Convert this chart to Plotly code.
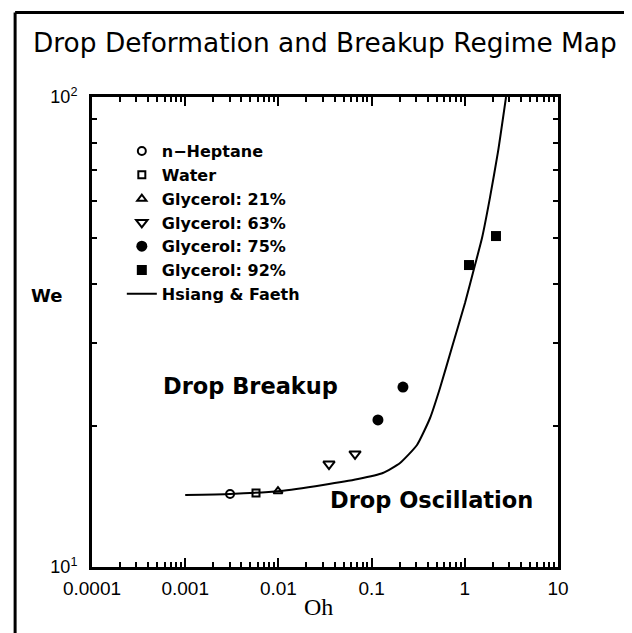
import plotly.graph_objects as go

# ---- data ----
heptane_oh = [0.00303]
heptane_we = [14.3]
water_oh = [0.00575]
water_we = [14.37]
gly21_oh = [0.0099]
gly21_we = [14.5]
gly63_oh = [0.0349, 0.0664]
gly63_we = [16.56, 17.4]
gly75_oh = [0.117, 0.217]
gly75_we = [20.55, 24.15]
gly92_oh = [1.11, 2.16]
gly92_we = [43.9, 50.6]

hf_oh = [0.001, 0.00303, 0.0104, 0.0301, 0.0715, 0.132, 0.202, 0.307, 0.424,
         0.542, 0.730, 1.005, 1.286, 1.53, 1.86, 2.27, 2.77]
hf_we = [14.23, 14.30, 14.51, 14.95, 15.39, 15.85, 16.65, 18.18, 20.75,
         24.04, 29.38, 36.45, 43.9, 50.1, 61.0, 76.4, 100.0]

x_tick_vals = [1e-4, 1e-3, 1e-2, 1e-1, 1, 10]
x_tick_text = ["0.0001", "0.001", "0.01", "0.1", "1", "10"]
y_tick_vals = [10, 100]
y_tick_text = ["10<sup>1</sup>", "10<sup>2</sup>"]

BLACK = "#000000"
LEG_FONT = dict(family="DejaVu Sans", size=16, color=BLACK, weight="bold")

fig = go.Figure()
fig.add_trace(go.Scatter(x=heptane_oh, y=heptane_we, mode="markers", name="n\u2212Heptane",
                         marker=dict(symbol="circle-open", size=8, color=BLACK, line=dict(width=2))))
fig.add_trace(go.Scatter(x=water_oh, y=water_we, mode="markers", name="Water",
                         marker=dict(symbol="square-open", size=7, color=BLACK, line=dict(width=2))))
fig.add_trace(go.Scatter(x=gly21_oh, y=gly21_we, mode="markers", name="Glycerol: 21%",
                         marker=dict(symbol="triangle-up-open", size=8, color=BLACK, line=dict(width=2))))
fig.add_trace(go.Scatter(x=gly63_oh, y=gly63_we, mode="markers", name="Glycerol: 63%",
                         marker=dict(symbol="triangle-down-open", size=10, color=BLACK, line=dict(width=2))))
fig.add_trace(go.Scatter(x=gly75_oh, y=gly75_we, mode="markers", name="Glycerol: 75%",
                         marker=dict(symbol="circle", size=11, color=BLACK)))
fig.add_trace(go.Scatter(x=gly92_oh, y=gly92_we, mode="markers", name="Glycerol: 92%",
                         marker=dict(symbol="square", size=10, color=BLACK)))
fig.add_trace(go.Scatter(x=hf_oh, y=hf_we, mode="lines", name="Hsiang & Faeth",
                         line=dict(color=BLACK, width=2, shape="spline", smoothing=0.5)))

minor_x = [m * 10.0 ** e for e in range(-4, 1) for m in range(2, 10)]
minor_y = [m * 10.0 for m in range(2, 10)]

fig.update_xaxes(type="log", range=[-4, 1], showline=True, linecolor=BLACK, linewidth=3,
                 mirror="allticks", ticks="inside", ticklen=9, tickwidth=2, tickcolor=BLACK,
                 tickvals=x_tick_vals, ticktext=x_tick_text, showgrid=False, zeroline=False,
                 tickfont=dict(family="Liberation Sans", size=19, color=BLACK),
                 ticklabelstandoff=2,
                 minor=dict(tickvals=minor_x, ticks="inside", ticklen=5, tickwidth=2,
                            tickcolor=BLACK, showgrid=False))
fig.update_yaxes(type="log", range=[1, 2], showline=True, linecolor=BLACK, linewidth=3,
                 mirror="allticks", ticks="inside", ticklen=9, tickwidth=2, tickcolor=BLACK,
                 tickvals=y_tick_vals, ticktext=y_tick_text, showgrid=False, zeroline=False,
                 tickfont=dict(family="Liberation Sans", size=18, color=BLACK),
                 ticklabelstandoff=8,
                 minor=dict(tickvals=minor_y, ticks="inside", ticklen=5, tickwidth=2,
                            tickcolor=BLACK, showgrid=False))

# the page adds an 8px body margin, so margins compensate for it
fig.update_layout(
    width=632, height=633,
    margin=dict(l=84, r=82, t=89, b=74),
    paper_bgcolor="white", plot_bgcolor="white",
    showlegend=True,
    legend=dict(x=0.064, y=0.921, xanchor="left", yanchor="top", bgcolor="rgba(0,0,0,0)",
                font=LEG_FONT, borderwidth=0),
    annotations=[
        dict(text="Drop Deformation and Breakup Regime Map", xref="paper", yref="paper",
             x=0.50, y=1.117, xanchor="center", yanchor="middle", showarrow=False,
             font=dict(family="DejaVu Sans", size=26.4, color=BLACK)),
        dict(text="We", xref="paper", yref="paper", x=-0.0966, y=0.5766,
             xanchor="center", yanchor="middle", showarrow=False,
             font=dict(family="DejaVu Sans", size=18, color=BLACK, weight="bold")),
        dict(text="Oh", xref="paper", yref="paper", x=0.485, y=-0.085,
             xanchor="center", yanchor="middle", showarrow=False,
             font=dict(family="Liberation Serif", size=24, color=BLACK)),
        dict(text="Drop Breakup", xref="paper", yref="paper", x=0.34, y=0.385,
             xanchor="center", yanchor="middle", showarrow=False,
             font=dict(family="DejaVu Sans", size=22.5, color=BLACK, weight="bold")),
        dict(text="Drop Oscillation", xref="paper", yref="paper", x=0.7296, y=0.143,
             xanchor="center", yanchor="middle", showarrow=False,
             font=dict(family="DejaVu Sans", size=22.5, color=BLACK, weight="bold")),
    ],
    shapes=[
        dict(type="line", xref="paper", yref="paper", x0=-0.165, x1=-0.165, y0=1.18, y1=-0.16,
             line=dict(color=BLACK, width=3)),
        dict(type="line", xref="paper", yref="paper", x0=-0.165, x1=1.153, y0=1.18, y1=1.18,
             line=dict(color=BLACK, width=3)),
        dict(type="line", xref="paper", yref="paper", x0=1.155, x1=1.155, y0=0.64, y1=-0.16,
             line=dict(color="#333333", width=2)),
    ],
)

fig.write_html("out.html")
